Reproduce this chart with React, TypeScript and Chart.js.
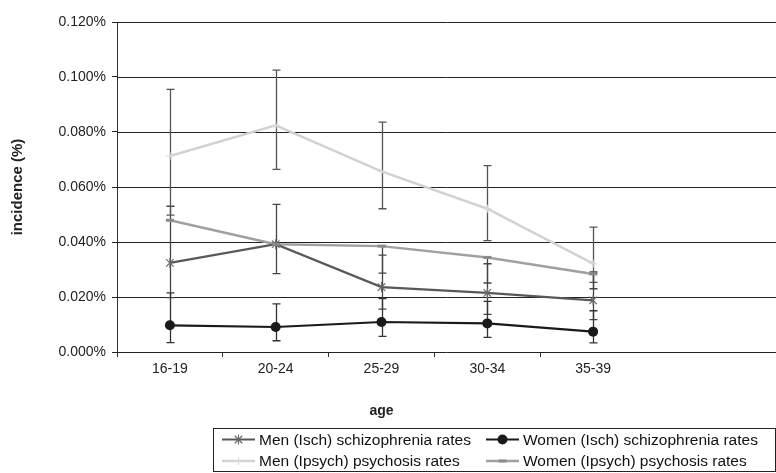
import React, { useEffect, useRef } from 'react';
import { Chart, registerables } from 'chart.js';

Chart.register(...registerables);

const ageGroups = ['16-19', '20-24', '25-29', '30-34', '35-39'];
const yTickValues = [0, 0.02, 0.04, 0.06, 0.08, 0.1, 0.12];

const menIschRates = [0.0324, 0.0392, 0.0236, 0.0215, 0.0188];
const womenIschRates = [0.0097, 0.0091, 0.0109, 0.0104, 0.0074];
const menIpsychRates = [0.0713, 0.0824, 0.0657, 0.0521, 0.0321];
const womenIpsychRates = [0.0479, 0.0392, 0.0385, 0.0344, 0.0284];

const menIschLow = [0.0198, 0.0285, 0.0156, 0.0137, 0.0118];
const menIschHigh = [0.053, 0.0537, 0.0352, 0.0321, 0.0291];
const womenIschLow = [0.0034, 0.0041, 0.0057, 0.0053, 0.0033];
const womenIschHigh = [0.0215, 0.0175, 0.0194, 0.0184, 0.015];
const menIpsychLow = [0.0498, 0.0664, 0.0521, 0.0405, 0.0253];
const menIpsychHigh = [0.0955, 0.1025, 0.0836, 0.0678, 0.0454];
const womenIpsychLow = [null, null, 0.0287, 0.0251, 0.023];
const womenIpsychHigh = [null, null, 0.0385, 0.0344, 0.0284];

const seriesLabels = [
  'Men (Isch) schizophrenia rates',
  'Women (Isch) schizophrenia rates',
  'Men (Ipsych) psychosis rates',
  'Women (Ipsych) psychosis rates',
];

const FONT = '"Liberation Sans", Arial, sans-serif';

function drawMarker(ctx: CanvasRenderingContext2D, style: string, x: number, y: number, r: number, color: string, bw: number) {
  ctx.save();
  ctx.strokeStyle = color;
  ctx.fillStyle = color;
  ctx.lineWidth = bw;
  ctx.beginPath();
  if (style === 'circle') {
    ctx.arc(x, y, r, 0, Math.PI * 2);
    ctx.fill();
  } else if (style === 'star') {
    const d = r * 0.75;
    ctx.moveTo(x - d, y - d); ctx.lineTo(x + d, y + d);
    ctx.moveTo(x - d, y + d); ctx.lineTo(x + d, y - d);
    ctx.moveTo(x, y - r); ctx.lineTo(x, y + r);
    ctx.stroke();
  } else if (style === 'cross') {
    ctx.moveTo(x, y - r); ctx.lineTo(x, y + r);
    ctx.moveTo(x - r, y); ctx.lineTo(x + r, y);
    ctx.stroke();
  } else if (style === 'dash') {
    ctx.moveTo(x - r, y); ctx.lineTo(x + r, y);
    ctx.stroke();
  }
  ctx.restore();
}

const errorBarPlugin = {
  id: 'errorBars',
  beforeDatasetsDraw(chart: any) {
    const { ctx } = chart;
    const yScale = chart.scales.y;
    chart.data.datasets.forEach((ds: any, di: number) => {
      if (!ds.errLow) return;
      const meta = chart.getDatasetMeta(di);
      ctx.save();
      ctx.strokeStyle = ds.errColor;
      ctx.lineWidth = 1.3;
      meta.data.forEach((pt: any, i: number) => {
        const lo = ds.errLow[i];
        const hi = ds.errHigh[i];
        if (lo == null || hi == null) return;
        const x = Math.round(pt.x) + 0.5;
        const yl = yScale.getPixelForValue(lo);
        const yh = yScale.getPixelForValue(hi);
        ctx.beginPath();
        ctx.moveTo(x, yl); ctx.lineTo(x, yh);
        ctx.moveTo(x - 4, yl); ctx.lineTo(x + 4, yl);
        ctx.moveTo(x - 4, yh); ctx.lineTo(x + 4, yh);
        ctx.stroke();
      });
      ctx.restore();
    });
  },
};

// horizontal gridlines (incl. the x axis line) run across to the right edge of the picture
const gridPlugin = {
  id: 'fullGrid',
  beforeDatasetsDraw(chart: any) {
    const { ctx, chartArea, width } = chart;
    const yScale = chart.scales.y;
    ctx.save();
    ctx.strokeStyle = '#222';
    ctx.lineWidth = 1;
    yScale.ticks.forEach((t: any) => {
      const y = Math.round(yScale.getPixelForValue(t.value)) + 0.5;
      ctx.beginPath();
      ctx.moveTo(chartArea.left, y);
      ctx.lineTo(width, y);
      ctx.stroke();
    });
    ctx.restore();
  },
};

const decorPlugin = {
  id: 'decor',
  afterDraw(chart: any) {
    const { ctx, chartArea } = chart;
    ctx.save();
    ctx.fillStyle = '#222';
    ctx.font = `bold 15px ${FONT}`;
    ctx.textAlign = 'center';
    ctx.textBaseline = 'middle';
    ctx.save();
    ctx.translate(18, (chartArea.top + chartArea.bottom) / 2);
    ctx.rotate(-Math.PI / 2);
    ctx.fillText('incidence (%)', 0, 0);
    ctx.restore();
    ctx.font = `bold 14px ${FONT}`;
    ctx.fillText('age', (chartArea.left + chartArea.right) / 2, 411);

    // legend
    const bx = 213.5, by = 428.5, bw = 562, bh = 43;
    ctx.strokeStyle = '#222';
    ctx.lineWidth = 1;
    ctx.strokeRect(bx, by, bw, bh);
    ctx.font = `15.5px ${FONT}`;
    ctx.textAlign = 'left';
    const rows = [439.5, 461];
    const cols = [222, 486];
    chart.data.datasets.forEach((ds: any, i: number) => {
      const cx = cols[i % 2];
      const cy = rows[Math.floor(i / 2)];
      ctx.save();
      ctx.strokeStyle = ds.borderColor;
      ctx.lineWidth = ds.borderWidth;
      ctx.beginPath();
      ctx.moveTo(cx, cy); ctx.lineTo(cx + 33, cy);
      ctx.stroke();
      ctx.restore();
      drawMarker(ctx, ds.markerStyle, cx + 16.5, cy, ds.markerSize, ds.markerColor, ds.markerWidth);
      ctx.fillStyle = '#111';
      ctx.fillText(ds.label, cx + 37, cy + 1);
    });
    ctx.restore();
  },
};

const markerPlugin = {
  id: 'markers',
  afterDatasetsDraw(chart: any) {
    const { ctx } = chart;
    chart.data.datasets.forEach((ds: any, di: number) => {
      const meta = chart.getDatasetMeta(di);
      meta.data.forEach((pt: any) => {
        drawMarker(ctx, ds.markerStyle, pt.x, pt.y, ds.markerSize, ds.markerColor, ds.markerWidth);
      });
    });
  },
};

export default function App() {
  const ref = useRef<HTMLCanvasElement>(null);
  useEffect(() => {
    document.body.style.margin = '0';
    const canvas = ref.current!;
    const chart = new Chart(canvas, {
      type: 'line',
      data: {
        labels: ageGroups,
        datasets: [
          {
            label: seriesLabels[0], data: menIschRates, borderColor: '#585858', borderWidth: 2.2,
            errLow: menIschLow, errHigh: menIschHigh, errColor: '#444444',
            markerStyle: 'star', markerSize: 5, markerColor: '#6a6a6a', markerWidth: 1.2,
          },
          {
            label: seriesLabels[1], data: womenIschRates, borderColor: '#1a1a1a', borderWidth: 2.2,
            errLow: womenIschLow, errHigh: womenIschHigh, errColor: '#333333',
            markerStyle: 'circle', markerSize: 5, markerColor: '#1a1a1a', markerWidth: 1,
          },
          {
            label: seriesLabels[2], data: menIpsychRates, borderColor: '#d2d2d2', borderWidth: 2.5,
            errLow: menIpsychLow, errHigh: menIpsychHigh, errColor: '#555555',
            markerStyle: 'cross', markerSize: 4, markerColor: '#dadada', markerWidth: 1.2,
          },
          {
            label: seriesLabels[3], data: womenIpsychRates, borderColor: '#a0a0a0', borderWidth: 2.5,
            errLow: womenIpsychLow, errHigh: womenIpsychHigh, errColor: '#444444',
            markerStyle: 'dash', markerSize: 4, markerColor: '#8a8a8a', markerWidth: 3,
          },
        ] as any,
      },
      options: {
        animation: false,
        responsive: false,
        devicePixelRatio: 1,
        layout: { padding: { left: 0, right: 130, top: 22, bottom: 0 } },
        elements: { point: { radius: 0, hoverRadius: 0 }, line: { tension: 0 } },
        plugins: { legend: { display: false }, tooltip: { enabled: false } },
        events: [],
        scales: {
          x: {
            offset: true,
            grid: {
              display: true, drawOnChartArea: false, offset: true, tickLength: 5,
              color: (c: any) => (c.type === 'tick' ? '#333' : 'rgba(0,0,0,0)'),
            },
            border: { display: false },
            ticks: { color: '#222', font: { family: FONT, size: 14 }, padding: 4, maxRotation: 0 },
            afterFit: (s: any) => { s.height = 121; },
          },
          y: {
            min: 0, max: 0.12,
            afterBuildTicks: (s: any) => { s.ticks = yTickValues.map((v) => ({ value: v })); },
            grid: { color: '#222', lineWidth: 1, tickLength: 5, drawOnChartArea: false },
            border: { color: '#333', width: 1 },
            ticks: {
              color: '#222', font: { family: FONT, size: 14 }, padding: 6,
              callback: (v: any) => Number(v).toFixed(3) + '%',
            },
            afterFit: (s: any) => { s.width = 117; },
          },
        },
      },
      plugins: [gridPlugin, errorBarPlugin, markerPlugin, decorPlugin],
    });
    return () => chart.destroy();
  }, []);
  return (
    <div style={{ position: 'absolute', left: 0, top: 0, width: 776, height: 473 }}>
      <canvas ref={ref} width={776} height={473} style={{ display: 'block', width: 776, height: 473 }} />
    </div>
  );
}
